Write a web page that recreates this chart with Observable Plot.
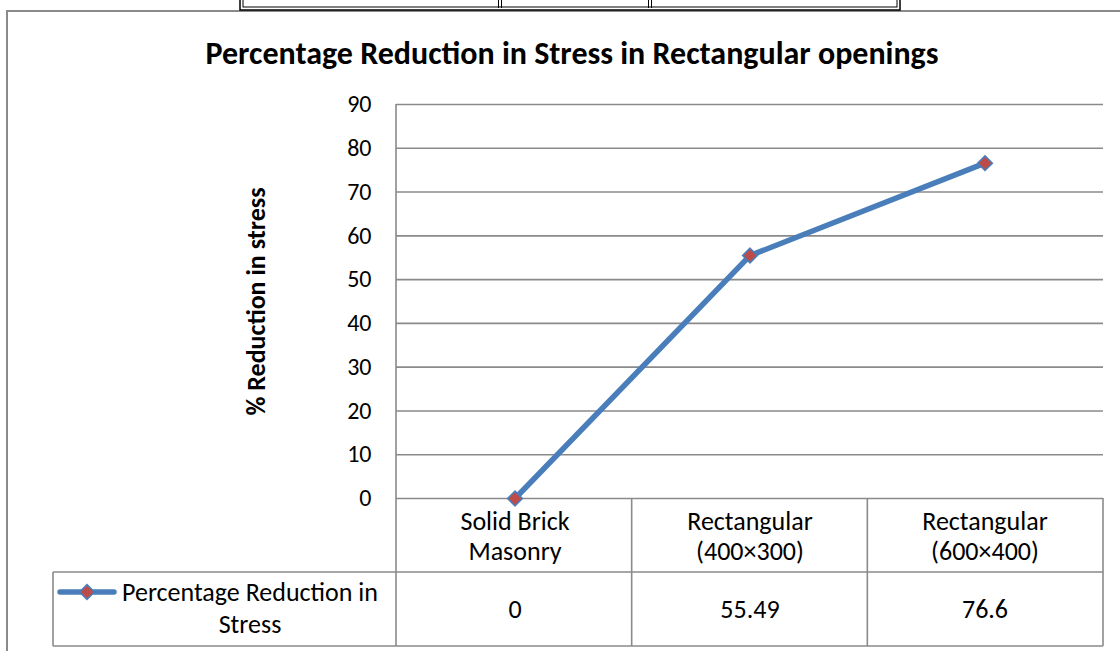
<!DOCTYPE html>
<html><head><meta charset="utf-8">
<script src="https://cdn.jsdelivr.net/npm/d3@7"></script>
<script src="https://cdn.jsdelivr.net/npm/@observablehq/plot@0.6"></script>
<style>
body{margin:0;background:#fff;}
#chart{position:relative;width:1120px;height:651px;overflow:hidden;background:#fff}
</style>
</head><body><div id="chart"></div>
<script>
const categories = ["Solid Brick\nMasonry", "Rectangular\n(400×300)", "Rectangular\n(600×400)"];
const values = [0, 55.49, 76.6];
const valueLabels = ["0", "55.49", "76.6"];
const yTicks = [0, 10, 20, 30, 40, 50, 60, 70, 80, 90];
const seriesName = "Percentage Reduction in\nStress";
const chartTitle = "Percentage Reduction in Stress in Rectangular openings";
const yLabel = "% Reduction in stress";

const data = categories.map((c, i) => ({category: c, value: values[i], label: valueLabels[i]}));
const FONT = "Carlito, Lato, sans-serif";
const BLUE = "#4A7EBB", RED = "#BE4B48", GRID = "#8a8a8a";
const TXT = 26;

const plot = Plot.plot({
  width: 1120, height: 651,
  marginTop: 104, marginBottom: 153, marginLeft: 396, marginRight: 17,
  style: {fontFamily: FONT, fontSize: "20px", color: "#000", background: "#fff"},
  x: {type: "band", domain: categories, padding: 0, axis: null},
  y: {domain: [0, 90], axis: null},
  marks: [
    Plot.ruleY(yTicks, {stroke: GRID, strokeWidth: 1.6}),
    Plot.axisY(yTicks, {tickSize: 0, tickPadding: 25, fontSize: 24, fill: "#000", label: null}),
    Plot.line(data, {x: "category", y: "value", stroke: BLUE, strokeWidth: 5.5, strokeLinejoin: "round", strokeLinecap: "round"}),
    Plot.dot(data, {x: "category", y: "value", symbol: "diamond2", r: 6.6, fill: RED, stroke: BLUE, strokeWidth: 1.6}),
    Plot.text(data, {x: "category", y: 0, text: "category", dy: 37, lineAnchor: "middle", lineHeight: 1.15, fontSize: TXT, fill: "#000"}),
    Plot.text(data, {x: "category", y: 0, text: "label", dy: 111, lineAnchor: "middle", fontSize: TXT, fill: "#000"}),
    Plot.text([chartTitle], {frameAnchor: "top", dx: -178, dy: -51, fontSize: 32, fontWeight: "bold", fill: "#000", lineAnchor: "middle"}),
    Plot.text([yLabel], {frameAnchor: "left", dx: -140, dy: 0, rotate: -90, textAnchor: "middle", fontSize: 26, fontWeight: "bold", fill: "#000", lineAnchor: "middle"})
  ]
});
document.getElementById("chart").appendChild(plot);

// Excel-style data table, frame and legend key drawn from the Plot scales
const svg = d3.select(plot);
const xs = plot.scale("x"), ys = plot.scale("y");
const [xL, xR] = xs.range;
const y0 = ys.apply(0), yTop = ys.apply(90);
const rowH = 74, legendLeft = 53;
const g = svg.insert("g", ":first-child").attr("stroke", GRID).attr("stroke-width", 1.6).attr("fill", "none");
g.append("line").attr("x1", xL).attr("x2", xL).attr("y1", yTop).attr("y2", y0 + 2 * rowH);
const bw = (xR - xL) / categories.length;
for (let i = 1; i <= categories.length; i++) {
  g.append("line").attr("x1", xL + i * bw).attr("x2", xL + i * bw).attr("y1", y0).attr("y2", y0 + 2 * rowH);
}
g.append("line").attr("x1", legendLeft).attr("x2", xR).attr("y1", y0 + rowH).attr("y2", y0 + rowH);
g.append("line").attr("x1", legendLeft).attr("x2", xR).attr("y1", y0 + 2 * rowH).attr("y2", y0 + 2 * rowH);
g.append("line").attr("x1", legendLeft).attr("x2", legendLeft).attr("y1", y0 + rowH).attr("y2", y0 + 2 * rowH);
// outer chart frame
svg.append("rect").attr("x", 7).attr("y", 11).attr("width", 1300).attr("height", 800)
  .attr("fill", "none").attr("stroke", "#8a8a8a").attr("stroke-width", 2);
// remnant of a table above the chart
const tg = svg.append("g").attr("fill", "none").attr("stroke", "#000");
tg.append("rect").attr("x", 240).attr("y", -10).attr("width", 660).attr("height", 20).attr("stroke-width", 1.5);
tg.append("rect").attr("x", 243).attr("y", -10).attr("width", 654).attr("height", 17).attr("stroke-width", 1);
[500, 650].forEach(x => {
  tg.append("line").attr("x1", x - 1.5).attr("x2", x - 1.5).attr("y1", -10).attr("y2", 8).attr("stroke-width", 1);
  tg.append("line").attr("x1", x + 1.5).attr("x2", x + 1.5).attr("y1", -10).attr("y2", 8).attr("stroke-width", 1);
});
// legend key
const ly = y0 + rowH + 20;
const lg = svg.append("g");
lg.append("line").attr("x1", 60).attr("x2", 114).attr("y1", ly).attr("y2", ly)
  .attr("stroke", BLUE).attr("stroke-width", 5.5).attr("stroke-linecap", "round");
lg.append("path").attr("d", d3.symbol(d3.symbolDiamond2, Math.PI * 6.6 * 6.6)())
  .attr("transform", `translate(87,${ly})`).attr("fill", RED).attr("stroke", BLUE).attr("stroke-width", 1.6);
const lines = seriesName.split("\n");
const lt = lg.append("text").attr("font-family", FONT).attr("font-size", TXT).attr("fill", "#000").attr("text-anchor", "middle");
lt.append("tspan").attr("x", 250).attr("y", ly).attr("dy", "0.35em").text(lines[0]);
lt.append("tspan").attr("x", 250).attr("y", ly + 32).attr("dy", "0.35em").text(lines[1]);
</script>
</body></html>
